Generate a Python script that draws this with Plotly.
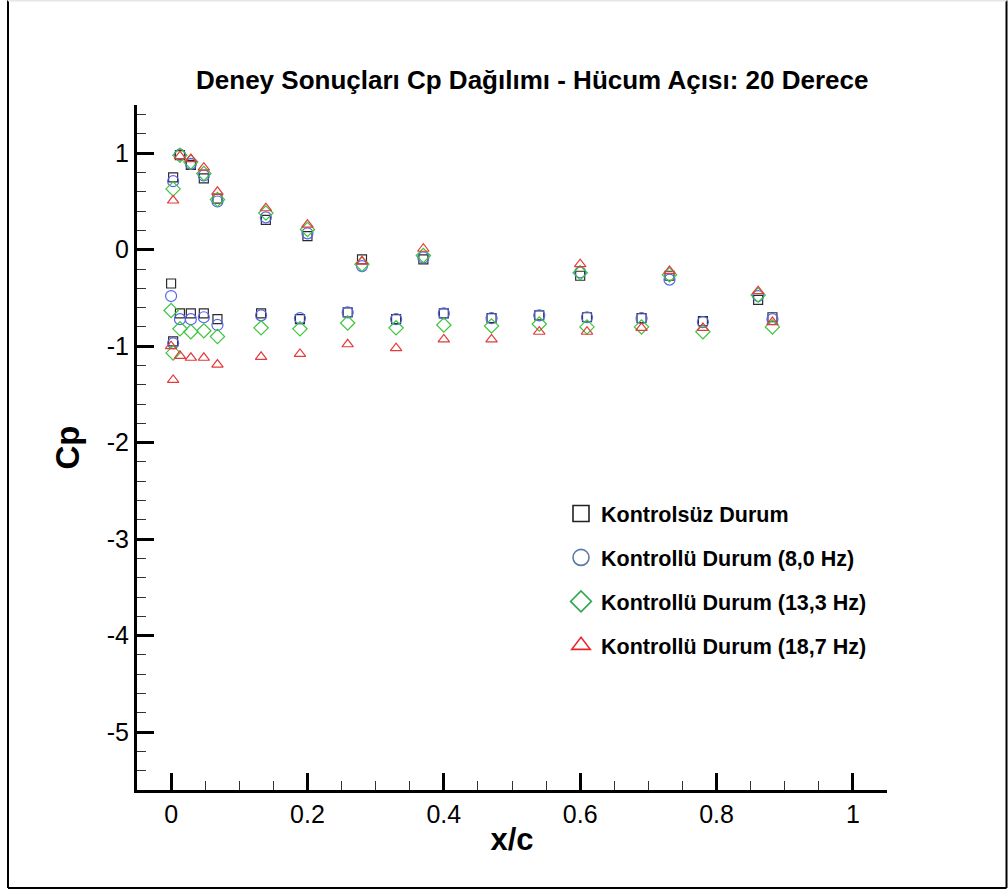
import plotly.graph_objects as go

# Pressure tap chord positions (upper and lower surface)
X_UPPER = [0.003, 0.013, 0.029, 0.048, 0.068, 0.139, 0.200, 0.280, 0.370, 0.600, 0.731, 0.861]
X_LOWER = [0.000, 0.003, 0.013, 0.029, 0.048, 0.068, 0.132, 0.189, 0.259, 0.330,
           0.400, 0.470, 0.540, 0.610, 0.690, 0.780, 0.882]

# Cp values per case
CP_UNCONTROLLED_UP = [0.75, 0.98, 0.88, 0.74, 0.53, 0.31, 0.14, -0.10, -0.10, -0.27, -0.27, -0.52]
CP_UNCONTROLLED_LO = [-0.35, -0.95, -0.66, -0.66, -0.66, -0.72, -0.66, -0.72, -0.65, -0.72,
                      -0.66, -0.71, -0.68, -0.70, -0.71, -0.74, -0.70]

CP_8HZ_UP = [0.71, 0.985, 0.89, 0.77, 0.50, 0.335, 0.17, -0.17, -0.08, -0.235, -0.31, -0.48]
CP_8HZ_LO = [-0.48, -0.97, -0.72, -0.72, -0.70, -0.78, -0.68, -0.71, -0.65, -0.72,
             -0.66, -0.71, -0.68, -0.70, -0.71, -0.75, -0.72]

CP_13HZ_UP = [0.63, 0.98, 0.91, 0.79, 0.52, 0.38, 0.21, -0.15, -0.06, -0.24, -0.26, -0.47]
CP_13HZ_LO = [-0.63, -1.07, -0.82, -0.85, -0.84, -0.90, -0.81, -0.82, -0.76, -0.81,
              -0.78, -0.79, -0.77, -0.80, -0.80, -0.85, -0.80]

CP_18HZ_UP = [0.51, 0.97, 0.94, 0.85, 0.60, 0.43, 0.26, -0.12, 0.01, -0.15, -0.22, -0.43]
CP_18HZ_LO = [-1.00, -1.35, -1.10, -1.12, -1.12, -1.19, -1.11, -1.08, -0.98, -1.02,
              -0.93, -0.93, -0.85, -0.85, -0.81, -0.81, -0.75]

SERIES_NAMES = ["Kontrolsüz Durum", "Kontrollü Durum (8,0 Hz)",
                "Kontrollü Durum (13,3 Hz)", "Kontrollü Durum (18,7 Hz)"]

X_TICKS = [0, 0.2, 0.4, 0.6, 0.8, 1]
X_TICK_TEXT = ["0", "0.2", "0.4", "0.6", "0.8", "1"]
Y_TICKS = [-5, -4, -3, -2, -1, 0, 1]
Y_TICK_TEXT = ["-5", "-4", "-3", "-2", "-1", "0", "1"]

FONT = "Liberation Sans, Arial, sans-serif"

series = [
    (CP_UNCONTROLLED_UP + CP_UNCONTROLLED_LO, "square-open", 9, "#2b2b2b", "#222222"),
    (CP_8HZ_UP + CP_8HZ_LO, "circle-open", 11, "#5566ee", "#5a7aa6"),
    (CP_13HZ_UP + CP_13HZ_LO, "diamond-open", 11, "#3cc43c", "#2ea84e"),
    (CP_18HZ_UP + CP_18HZ_LO, "triangle-up-open", 10, "#e33b3b", "#e8262a"),
]

x_all = X_UPPER + X_LOWER

fig = go.Figure()
for i, (yv, sym, size, col, legcol) in enumerate(series):
    fig.add_trace(go.Scatter(
        x=x_all, y=yv, mode="markers", showlegend=False,
        marker=dict(symbol=sym, size=size, color=col, line=dict(width=1.2, color=col)),
        name=SERIES_NAMES[i],
    ))
# legend entries with larger symbols
for i, (yv, sym, size, col, legcol) in enumerate(series):
    fig.add_trace(go.Scatter(
        x=[None], y=[None], mode="markers", name=SERIES_NAMES[i],
        legendgroup=f"g{i}",
        marker=dict(symbol=sym, size=16, color=legcol, line=dict(width=1.6, color=legcol)),
    ))

L, R, T, B = 137, 121, 105, 100
W, H = 1008, 890
pw, ph = W - L - R, H - T - B


def px(x):
    return (x - L) / pw


def py(y):
    return (H - B - y) / ph


fig.update_layout(
    width=W, height=H,
    margin=dict(l=L, r=R, t=T, b=B),
    paper_bgcolor="white", plot_bgcolor="white",
    font=dict(family=FONT, color="black"),
    title=dict(text="Deney Sonuçları Cp Dağılımı - Hücum Açısı: 20 Derece",
               font=dict(size=26, weight="bold", family=FONT),
               x=px(533), xanchor="center", y=1 - 80 / H, yanchor="middle"),
    legend=dict(x=px(561), y=py(493), xanchor="left", yanchor="top",
                font=dict(size=21.5, weight="bold", family=FONT),
                tracegroupgap=13, bgcolor="rgba(0,0,0,0)", itemsizing="trace"),
    xaxis=dict(range=[-0.05, 1.05], tickvals=X_TICKS, ticktext=X_TICK_TEXT,
               ticks="inside", ticklen=17, tickwidth=3, tickcolor="black",
               showline=True, linewidth=3, linecolor="black",
               showgrid=False, zeroline=False,
               tickfont=dict(size=25, family=FONT),
               minor=dict(tick0=0, dtick=0.05, ticks="inside", ticklen=9,
                          tickwidth=1, tickcolor="#333333", showgrid=False),
               title=dict(text="x/c", font=dict(size=31, weight="bold", family=FONT),
                          standoff=2)),
    yaxis=dict(range=[-5.6, 1.5], tickvals=Y_TICKS, ticktext=Y_TICK_TEXT,
               ticks="inside", ticklen=17, tickwidth=3, tickcolor="black",
               showline=True, linewidth=3, linecolor="black",
               showgrid=False, zeroline=False,
               tickfont=dict(size=25, family=FONT),
               minor=dict(tick0=0, dtick=0.2, ticks="inside", ticklen=9,
                          tickwidth=1, tickcolor="#333333", showgrid=False),
               title=dict(text="Cp", font=dict(size=33, weight="bold", family=FONT),
                          standoff=18)),
)

# outer frame of the figure
frame = [
    (8, 0.5, 8, 888, "black"),
    (8, 888, 1006.5, 888, "black"),
    (1006.5, 0.5, 1006.5, 888, "black"),
    (8, 0.5, 1006.5, 0.5, "#e6e6e6"),
]
for x0, y0, x1, y1, c in frame:
    fig.add_shape(type="line", xref="paper", yref="paper",
                  x0=px(x0), y0=py(y0), x1=px(x1), y1=py(y1),
                  line=dict(color=c, width=2))

fig.write_html("out.html")
